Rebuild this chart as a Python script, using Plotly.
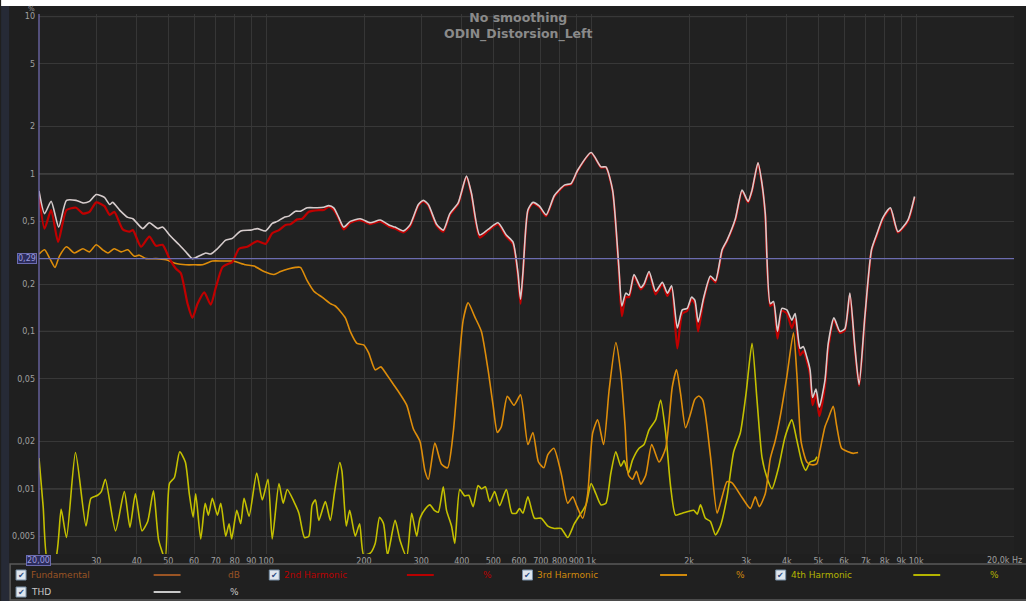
import plotly.graph_objects as go
import math

# ---------------- data ----------------
thd_freq = [20, 20.8, 21.8, 23.0, 24.3, 26.0, 27.3, 28.6, 30.0, 31.8, 33.0, 33.7, 35.4, 37.5, 38.9,
            41.7, 43.7, 46.4, 48.0, 50.4, 54.0, 56.6, 59.3, 62.9, 65.2, 67.5, 70.8, 75.1, 78.7, 83.5,
            89.6, 93.9, 99.6, 104.4, 108.2, 113.4, 117.5, 123.1, 127.5, 133.7, 143.5, 150.4, 155.8,
            161.4, 167.2, 173.2, 181.4, 194.7, 209.0, 224.3, 240.6, 249.3, 264.5, 277.1, 294.0, 304.5,
            315.5, 334.5, 350.7, 367.4, 389.8, 413.3, 428.1, 453.9, 481.7, 516.9, 548.1, 574.6, 595.2,
            606.3, 616.6, 638.8, 661.8, 693.4, 726.9, 770.7, 827.1, 867.1, 909.3, 1000, 1072, 1110,
            1164, 1206, 1220, 1243, 1278, 1308, 1355, 1421, 1454, 1507, 1579, 1656, 1716, 1768, 1841,
            1907, 1975, 2036, 2084, 2134, 2221, 2328, 2412, 2529, 2619, 2778, 2913, 3039, 3126, 3261,
            3354, 3433, 3556, 3640, 3744, 3862, 4001, 4144, 4242, 4394, 4497, 4607, 4716, 4800, 4918,
            5034, 5241, 5364, 5585, 5825, 6035, 6251, 6475, 6675, 6950, 7287, 7549, 7908, 8329, 8789,
            9432, 9888]
thd_vals = [0.78, 0.56, 0.67, 0.46, 0.68, 0.68, 0.655, 0.67, 0.74, 0.71, 0.64, 0.66, 0.59, 0.53, 0.52,
            0.45, 0.49, 0.45, 0.46, 0.41, 0.355, 0.32, 0.29, 0.305, 0.315, 0.31, 0.335, 0.38, 0.39, 0.435,
            0.44, 0.45, 0.435, 0.485, 0.50, 0.53, 0.54, 0.58, 0.58, 0.61, 0.61, 0.615, 0.63,
            0.61, 0.53, 0.46, 0.50, 0.52, 0.49, 0.51, 0.47, 0.46, 0.435, 0.475, 0.64, 0.68,
            0.64, 0.48, 0.44, 0.56, 0.655, 0.97, 0.755, 0.41, 0.445, 0.49, 0.41, 0.37, 0.235,
            0.16, 0.235, 0.59, 0.66, 0.625, 0.55, 0.73, 0.85, 0.87, 1.06, 1.37, 1.11, 1.11,
            0.79, 0.33, 0.235, 0.145, 0.175, 0.17, 0.23, 0.19, 0.20, 0.24, 0.18, 0.205, 0.175, 0.195, 0.105,
            0.137, 0.14, 0.165, 0.158, 0.115, 0.165, 0.225, 0.21, 0.33, 0.38, 0.52, 0.79, 0.67, 0.79, 1.18,
            0.87, 0.56, 0.15, 0.155, 0.10, 0.14, 0.137, 0.118, 0.13, 0.078, 0.08, 0.069, 0.057, 0.038, 0.043,
            0.033, 0.049, 0.084, 0.122, 0.10, 0.104, 0.175, 0.08, 0.046, 0.123, 0.33, 0.41, 0.53, 0.61, 0.43,
            0.51, 0.72]

h2_freq = [20, 20.8, 21.8, 22.9, 24.3, 26.0, 27.3, 28.6, 30.0, 31.8, 33.0, 34.1, 36.2, 38.0, 38.9,
           41.2, 43.7, 45.8, 48.0, 50.4, 52.8, 54.6, 57.3, 59.3, 61.5, 64.5, 67.5, 70.0, 73.4, 76.9,
           78.7, 82.5, 87.5, 93.9, 99.6, 104.4, 109.5, 114.7, 118.8, 124.6, 129.1, 135.3, 145.2, 150.4,
           155.8, 161.4, 167.2, 173.2, 181.4, 194.7, 209.0, 224.3, 240.6, 249.3, 264.5, 277.1, 294.0,
           304.5, 315.5, 334.5, 350.7, 367.4, 389.8, 413.3, 428.1, 453.9, 481.7, 516.9, 548.1, 574.6,
           595.2, 606.3, 616.6, 638.8, 661.8, 693.4, 726.9, 770.7, 827.1, 867.1, 909.3, 1000, 1072,
           1110, 1164, 1206, 1220, 1243, 1278, 1308, 1355, 1421, 1454, 1507, 1579, 1656, 1716, 1768,
           1841, 1907, 1975, 2036, 2084, 2134, 2221, 2328, 2412, 2529, 2619, 2778, 2913, 3039, 3126,
           3261, 3354, 3433, 3556, 3640, 3744, 3862, 4001, 4144, 4242, 4394, 4497, 4607, 4716, 4800,
           4918, 5034, 5241, 5364, 5585, 5825, 6035, 6251, 6475, 6675, 6950, 7287, 7549, 7908, 8329,
           8789, 9432, 9888]
h2_vals = [0.74, 0.45, 0.59, 0.37, 0.59, 0.61, 0.56, 0.575, 0.66, 0.625, 0.55, 0.575, 0.445, 0.43, 0.44,
           0.345, 0.40, 0.35, 0.355, 0.29, 0.25, 0.235, 0.15, 0.122, 0.15, 0.177, 0.148, 0.19, 0.256, 0.27,
           0.275, 0.335, 0.345, 0.375, 0.36, 0.42, 0.44, 0.475, 0.48, 0.515, 0.52, 0.575, 0.59, 0.59,
           0.62, 0.59, 0.52, 0.445, 0.49, 0.51, 0.48, 0.50, 0.46, 0.45, 0.425, 0.465, 0.63,
           0.67, 0.63, 0.47, 0.43, 0.55, 0.645, 0.96, 0.74, 0.395, 0.435, 0.48, 0.40, 0.36,
           0.225, 0.15, 0.23, 0.58, 0.65, 0.615, 0.54, 0.72, 0.84, 0.86, 1.05, 1.36, 1.10,
           1.10, 0.78, 0.32, 0.22, 0.125, 0.165, 0.165, 0.225, 0.185, 0.195, 0.235, 0.172, 0.20, 0.168, 0.19,
           0.078, 0.13, 0.135, 0.16, 0.15, 0.10, 0.16, 0.22, 0.205, 0.325, 0.375, 0.51, 0.78, 0.66, 0.78,
           1.17, 0.86, 0.55, 0.145, 0.15, 0.09, 0.135, 0.13, 0.105, 0.12, 0.0705, 0.075, 0.065, 0.053, 0.034,
           0.040, 0.029, 0.045, 0.078, 0.118, 0.098, 0.102, 0.172, 0.078, 0.045, 0.12, 0.325, 0.40, 0.52, 0.60,
           0.425, 0.50, 0.71]

h3_freq = [20, 20.8, 21.6, 22.4, 23.1, 24.3, 25.7, 27.3, 28.6, 30.0, 31.4, 32.6, 34.1, 35.8, 37.5,
           39.3, 40.7, 42.7, 45.8, 49.2, 52.8, 56.6, 60.7, 63.7, 68.3, 73.4, 78.7, 81.5, 86.5, 91.8,
           98.5, 105.7, 110.7, 117.5, 123.1, 127.5, 133.7, 140.2, 148.6, 157.6, 163.2, 175.2, 181.4,
           190.2, 199.5, 206.7, 216.5, 225.4, 235.1, 246.5, 258.2, 270.7, 283.8, 297.4, 308.0, 315.5,
           330.5, 346.5, 361.5, 376.3, 389.8, 403.8, 418.3, 438.2, 459.4, 481.7, 499.0, 514.4, 529.1,
           552.0, 578.7, 606.3, 638.8, 661.8, 688.5, 715.2, 735.7, 767.5, 808.1, 847.2, 877.6, 904.7,
           941.9, 975.7, 1011, 1047, 1092, 1136, 1191, 1234, 1272, 1303, 1340, 1378, 1421, 1472, 1536,
           1617, 1695, 1777, 1831, 1884, 1952, 2022, 2084, 2144, 2205, 2328, 2441, 2529, 2619, 2714,
           2913, 3088, 3199, 3291, 3433, 3556, 3684, 3816, 4001, 4192, 4293, 4426, 4607, 4772, 4943,
           5059, 5241, 5364, 5557, 5691, 5896, 6176, 6398, 6627]
h3_vals = [0.31, 0.33, 0.29, 0.255, 0.30, 0.345, 0.315, 0.335, 0.32, 0.355, 0.33, 0.315, 0.335, 0.32, 0.33,
           0.30, 0.305, 0.29, 0.29, 0.285, 0.27, 0.265, 0.265, 0.265, 0.28, 0.28, 0.28, 0.275, 0.265, 0.26,
           0.24, 0.23, 0.24, 0.25, 0.255, 0.255, 0.21, 0.18, 0.165, 0.15, 0.145, 0.122, 0.10,
           0.084, 0.082, 0.073, 0.057, 0.0595, 0.053, 0.046, 0.040, 0.034, 0.024, 0.020, 0.013, 0.0115,
           0.0195, 0.0143, 0.0136, 0.0227, 0.054, 0.118, 0.152, 0.124, 0.10, 0.057, 0.034, 0.0228, 0.0248,
           0.0387, 0.034, 0.0395, 0.0191, 0.0228, 0.0148, 0.0136, 0.0165, 0.0181, 0.0126, 0.0081, 0.0089, 0.0077,
           0.0065, 0.0093, 0.0227, 0.0274, 0.0191, 0.0426, 0.085, 0.054, 0.0248, 0.0122, 0.0115, 0.0129, 0.0107, 0.0122, 0.0191,
           0.0148, 0.0181, 0.0445, 0.057, 0.0402, 0.0244, 0.030, 0.037, 0.0389, 0.0366, 0.0162, 0.0070, 0.0089, 0.0111, 0.0109,
           0.0088, 0.0075, 0.0089, 0.0077, 0.0093, 0.0155, 0.0202, 0.0287, 0.0518, 0.098, 0.054, 0.0199, 0.0148, 0.0142, 0.0144,
           0.0176, 0.0248, 0.0280, 0.0334, 0.0253, 0.0181, 0.0172, 0.0168, 0.0170]

h4_freq = [20, 20.6, 21.3, 22.5, 23.4, 24.3, 25.9, 27.9, 28.9, 30.3, 31.1, 32.0, 34.4, 36.6, 38.1,
           39.6, 41.5, 43.2, 45.0, 46.7, 48.9, 50.4, 52.2, 54.2, 56.4, 58.0, 59.6, 60.7, 62.9, 64.9,
           66.4, 68.3, 70.8, 72.5, 75.1, 76.9, 78.3, 81.2, 83.5, 85.5, 88.6, 93.5, 97.3, 101.3, 104.4,
           109.5, 112.8, 116.1, 121.7, 126.1, 131.2, 135.3, 138.5, 141.8, 145.2, 152.1, 157.6, 162.1,
           168.4, 171.1, 176.4, 180.7, 188.0, 193.9, 199.5, 209.0, 216.5, 223.3, 229.7, 236.3, 249.3,
           258.2, 270.7, 280.4, 290.5, 297.4, 309.5, 319.1, 329.2, 338.5, 350.7, 358.9, 371.8, 380.6,
           394.2, 408.4, 420.1, 433.3, 448.8, 459.4, 472.6, 487.2, 504.7, 522.8, 548.1, 570.6, 588.1,
           602.0, 616.6, 638.8, 669.3, 701.8, 735.7, 770.7, 808.1, 847.2, 887.6, 930.7, 964.1, 1000,
           1034, 1072, 1110, 1150, 1191, 1234, 1263, 1303, 1340, 1404, 1454, 1507, 1579, 1636, 1695,
           1756, 1819, 1907, 1998, 2069, 2120, 2170, 2247, 2328, 2412, 2498, 2619, 2745, 2878, 2996,
           3126, 3238, 3354, 3474, 3599, 3771, 3953, 4144, 4293, 4447, 4574, 4716, 4884, 4950]
h4_vals = [0.0157, 0.0077, 0.0034, 0.0036, 0.0074, 0.0049, 0.017, 0.0058, 0.0087, 0.0091, 0.0096, 0.0115, 0.0054, 0.0096, 0.0057,
           0.0093, 0.0054, 0.0062, 0.0097, 0.0047, 0.0036, 0.0108, 0.0118, 0.0172, 0.0148, 0.0093, 0.0066, 0.0093, 0.0048, 0.0081,
           0.0068, 0.0087, 0.0068, 0.0081, 0.0050, 0.0060, 0.0048, 0.0073, 0.0060, 0.0087, 0.0067, 0.0126, 0.0085, 0.0115, 0.0048,
           0.0108, 0.0081, 0.0099, 0.0083, 0.0070, 0.0049, 0.0050, 0.0079, 0.0085, 0.0063, 0.0083, 0.0063, 0.0093,
           0.0147, 0.0129, 0.0058, 0.0073, 0.0050, 0.0060, 0.0038, 0.0039, 0.0045, 0.0066, 0.0060, 0.0038, 0.0063,
           0.0047, 0.0037, 0.0070, 0.0050, 0.0065, 0.0075, 0.0079, 0.0073, 0.0071, 0.0103, 0.0073, 0.0058, 0.0045,
           0.0099, 0.0090, 0.0091, 0.0077, 0.0105, 0.0100, 0.0103, 0.0083, 0.0096, 0.0078, 0.0099, 0.0070, 0.0070,
           0.0075, 0.0070, 0.0089, 0.0065, 0.0065, 0.0058, 0.0056, 0.0056, 0.0049, 0.0060, 0.0070, 0.0079, 0.0108,
           0.0093, 0.0079, 0.0081, 0.0126, 0.0172, 0.0139, 0.0151, 0.0126, 0.0152, 0.0181, 0.0191, 0.0237, 0.0274, 0.0366, 0.0227,
           0.0103, 0.0068, 0.0070, 0.0072, 0.0073, 0.0069, 0.0079, 0.0065, 0.0062, 0.0051, 0.0058, 0.0089, 0.0172, 0.0227, 0.0402,
           0.084, 0.0366, 0.0159, 0.0118, 0.0100, 0.0136, 0.0215, 0.0274, 0.0204, 0.0148, 0.0131, 0.0148, 0.0152, 0.0160]

x_tick_vals = [30, 40, 50, 60, 70, 80, 90, 100, 200, 300, 400, 500, 600, 700, 800, 900,
               1000, 2000, 3000, 4000, 5000, 6000, 7000, 8000, 9000, 10000, 20000]
x_tick_text = ["30", "40", "50", "60", "70", "80", "90", "100", "200", "300", "400", "500", "600",
               "700", "800", "900", "1k", "2k", "3k", "4k", "5k", "6k", "7k", "8k", "9k", "10k", ""]
y_tick_vals = [0.005, 0.01, 0.02, 0.05, 0.1, 0.2, 0.5, 1, 2, 5, 10]
y_tick_text = ["0,005", "0,01", "0,02", "0,05", "0,1", "0,2", "0,5", "1", "2", "5", "10"]
y_decades = [0.01, 0.1, 1, 10]
marker_level = 0.29
marker_level_text = "0,29"
x_start_text = "20,00"
x_end_text = "20,0k Hz"
freq_min, freq_max = 20, 20000

legend_names = ["Fundamental", "2nd Harmonic", "3rd Harmonic", "4th Harmonic", "THD"]
legend_units = ["dB", "%", "%", "%", "%"]
legend_colors = ["#9a5424", "#b80000", "#d08a0c", "#b4b400", "#c8c8c8"]

title_lines = ["No smoothing", "ODIN_Distorsion_Left"]

# ---------------- layout helpers ----------------
W, H = 1026, 601
L, R, T, B = 36, 1014, 14, 554


def px(x):
    return (x - L) / (R - L)


def py(y):
    return (B - y) / (B - T)


y_top_log = 1 + (16.6 - T) / 157.4
y_bot_log = 1 - (B - 16.6) / 157.4

fig = go.Figure()

series = [
    ("4th Harmonic", h4_freq, h4_vals, "#c4c000", 1.6),
    ("3rd Harmonic", h3_freq, h3_vals, "#de8d0a", 1.6),
    ("2nd Harmonic", h2_freq, h2_vals, "#c00000", 2.2),
    ("THD", thd_freq, thd_vals, "#d6cccc", 1.6),
]
for name, fx, fy, col, w in series:
    fig.add_trace(go.Scatter(x=fx, y=fy, mode="lines", name=name,
                             line=dict(color=col, width=w, shape="spline", smoothing=0.6),
                             showlegend=False, hoverinfo="skip"))

shapes = []
for v in y_decades:
    shapes.append(dict(type="line", xref="paper", yref="y", x0=0, x1=1, y0=v, y1=v,
                       line=dict(color="#5c5c5c", width=1), layer="below"))
shapes.append(dict(type="line", xref="paper", yref="y", x0=0, x1=1, y0=marker_level, y1=marker_level,
                   line=dict(color="#6c6cb0", width=1.2)))
shapes.append(dict(type="line", xref="paper", yref="paper", x0=0, x1=0, y0=0, y1=1,
                   line=dict(color="#7670b8", width=1.2)))
shapes.append(dict(type="rect", xref="paper", yref="paper", x0=px(-2), x1=px(W + 2), y0=py(6), y1=py(-2),
                   fillcolor="#ffffff", line=dict(width=0)))
shapes.append(dict(type="rect", xref="paper", yref="paper", x0=px(-2), x1=px(6), y0=py(H + 2), y1=py(6),
                   fillcolor="#262a36", line=dict(width=0)))
shapes.append(dict(type="rect", xref="paper", yref="paper", x0=px(7), x1=px(W + 5), y0=py(600), y1=py(564),
                   fillcolor="#202020", line=dict(color="#5a5a5a", width=1.5)))

annotations = []
annotations.append(dict(text="<b>" + title_lines[0] + "</b><br><b>" + title_lines[1] + "</b>",
                        xref="paper", yref="paper", x=px(517), y=py(26), showarrow=False,
                        xanchor="center", yanchor="middle", align="center",
                        font=dict(family="DejaVu Sans", size=12.5, color="#8a8a8a")))
annotations.append(dict(text="%", xref="paper", yref="paper", x=px(28), y=py(9), showarrow=False,
                        xanchor="center", yanchor="middle",
                        font=dict(family="DejaVu Sans", size=7, color="#a0a0a0")))
annotations.append(dict(text=marker_level_text, xref="paper", yref="y", x=px(24), y=math.log10(marker_level),
                        showarrow=False, xanchor="center", yanchor="middle",
                        bgcolor="#2c2c5c", bordercolor="#6c6cb0", borderwidth=1, borderpad=0,
                        font=dict(family="DejaVu Sans", size=8, color="#9c9cdc")))
annotations.append(dict(text=x_start_text, xref="paper", yref="paper", x=px(35), y=py(560),
                        showarrow=False, xanchor="center", yanchor="middle",
                        bgcolor="#2c2c5c", bordercolor="#6c6cb0", borderwidth=1, borderpad=0,
                        font=dict(family="DejaVu Sans", size=8, color="#9c9cdc")))
annotations.append(dict(text=x_end_text, xref="paper", yref="paper", x=px(1024), y=py(560),
                        showarrow=False, xanchor="right", yanchor="middle",
                        font=dict(family="DejaVu Sans", size=8, color="#a0a0a0")))

leg_pos = [(13, 575), (267, 575), (521, 575), (775, 575), (13, 592)]
for (lx, ly), name, unit, col in zip(leg_pos, legend_names, legend_units, legend_colors):
    shapes.append(dict(type="rect", xref="paper", yref="paper", x0=px(lx), x1=px(lx + 10),
                       y0=py(ly + 5), y1=py(ly - 5), fillcolor="#dfe6ee",
                       line=dict(color="#7890a8", width=1)))
    annotations.append(dict(text="✔", xref="paper", yref="paper", x=px(lx + 5), y=py(ly),
                            showarrow=False, xanchor="center", yanchor="middle",
                            font=dict(family="DejaVu Sans", size=8, color="#2a4a80")))
    annotations.append(dict(text=name, xref="paper", yref="paper", x=px(lx + 13), y=py(ly),
                            showarrow=False, xanchor="left", yanchor="middle",
                            font=dict(family="DejaVu Sans", size=9, color=col)))
    shapes.append(dict(type="line", xref="paper", yref="paper", x0=px(lx + 138), x1=px(lx + 165),
                       y0=py(ly), y1=py(ly), line=dict(color=col, width=2)))
    annotations.append(dict(text=unit, xref="paper", yref="paper", x=px(lx + 219), y=py(ly),
                            showarrow=False, xanchor="center", yanchor="middle",
                            font=dict(family="DejaVu Sans", size=9, color=col)))

fig.update_layout(
    width=W, height=H,
    margin=dict(l=L, r=W - R, t=T, b=H - B),
    paper_bgcolor="#1f1f1f",
    plot_bgcolor="#212121",
    shapes=shapes,
    annotations=annotations,
    xaxis=dict(type="log", range=[math.log10(freq_min), math.log10(freq_max)],
               tickmode="array", tickvals=x_tick_vals, ticktext=x_tick_text, tickangle=0,
               showgrid=True, gridcolor="#363636", gridwidth=1, zeroline=False,
               showline=False, ticks="", ticklabelstandoff=1,
               tickfont=dict(family="DejaVu Sans", size=8, color="#a0a0a0")),
    yaxis=dict(type="log", range=[y_bot_log, y_top_log],
               tickmode="array", tickvals=y_tick_vals, ticktext=y_tick_text,
               showgrid=True, gridcolor="#383838", gridwidth=1, zeroline=False,
               showline=False, ticks="", ticklabelstandoff=3,
               tickfont=dict(family="DejaVu Sans", size=8, color="#a0a0a0")),
    showlegend=False,
)

fig.write_html("out.html", config={"displayModeBar": False},
               post_script="document.body.style.margin='0';document.body.style.padding='0';"
                           "document.documentElement.style.overflow='hidden';")
